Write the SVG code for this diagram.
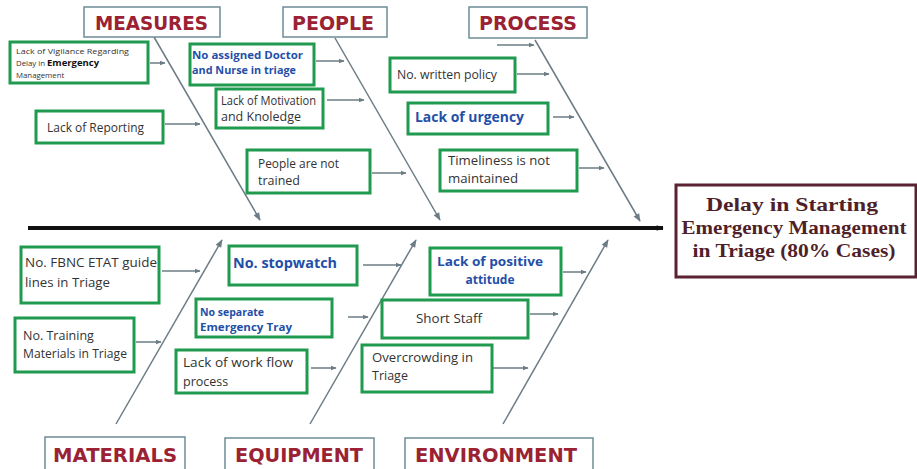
<svg xmlns="http://www.w3.org/2000/svg" width="917" height="469" viewBox="0 0 917 469">
<defs>
<marker id="ah" viewBox="0 0 10 10" refX="9" refY="5" markerWidth="6" markerHeight="6" markerUnits="userSpaceOnUse" orient="auto"><path d="M0,1 L10,5 L0,9 z" fill="#6b7c84"/></marker>
<marker id="bh" viewBox="0 0 10 10" refX="9" refY="5" markerWidth="10" markerHeight="8" markerUnits="userSpaceOnUse" orient="auto"><path d="M0,1 L10,5 L0,9 z" fill="#6b7c84"/></marker>
<marker id="sh" viewBox="0 0 10 10" refX="9" refY="5" markerWidth="9" markerHeight="7" markerUnits="userSpaceOnUse" orient="auto"><path d="M0,1 L10,5 L0,9 z" fill="#111"/></marker>
</defs>
<style>
.cat rect{fill:#fff;stroke:#6f8c98;stroke-width:1.5}
.cat text{font-family:"DejaVu Sans","Open Sans",sans-serif;font-weight:bold;font-size:19px;fill:#9b2233}
.cause rect{fill:#fff;stroke:#1f9a4f;stroke-width:3}
.cause text{font-family:"Open Sans","Liberation Sans",sans-serif;font-size:12.5px;fill:#333}
.cause text.b{font-weight:bold;fill:#1f4fa8}
.bone{stroke:#6b7c84;stroke-width:1.5;fill:none}
.sm{stroke:#6b7c84;stroke-width:1.5;fill:none}
.eff text{font-family:"Liberation Serif","Times New Roman",serif;font-weight:bold;font-size:19px;fill:#4f1f2a}
</style>
<rect width="917" height="469" fill="#fff"/>

<g id="connectors">
<line x1="28" y1="228" x2="663" y2="228" stroke="#111" stroke-width="4" marker-end="url(#sh)"/>
<line class="bone" x1="154" y1="37" x2="260" y2="220" marker-end="url(#bh)"/>
<line class="bone" x1="335" y1="38" x2="440" y2="220" marker-end="url(#bh)"/>
<line class="bone" x1="535" y1="40" x2="640" y2="221" marker-end="url(#bh)"/>
<line class="bone" x1="116" y1="424" x2="222" y2="240" marker-end="url(#bh)"/>
<line class="bone" x1="310" y1="424" x2="416" y2="240" marker-end="url(#bh)"/>
<line class="bone" x1="503" y1="424" x2="608" y2="240" marker-end="url(#bh)"/>
<line class="sm" x1="150" y1="63" x2="165" y2="63" marker-end="url(#ah)"/>
<line class="sm" x1="165" y1="124" x2="200" y2="124" marker-end="url(#ah)"/>
<line class="sm" x1="316" y1="61" x2="344" y2="61" marker-end="url(#ah)"/>
<line class="sm" x1="327" y1="100" x2="364" y2="100" marker-end="url(#ah)"/>
<line class="sm" x1="372" y1="173" x2="406" y2="173" marker-end="url(#ah)"/>
<line class="sm" x1="497" y1="45" x2="534" y2="45" marker-end="url(#ah)"/>
<line class="sm" x1="517" y1="74" x2="549" y2="74" marker-end="url(#ah)"/>
<line class="sm" x1="553" y1="117" x2="574" y2="117" marker-end="url(#ah)"/>
<line class="sm" x1="579" y1="168" x2="604" y2="168" marker-end="url(#ah)"/>
<line class="sm" x1="162" y1="271" x2="200" y2="271" marker-end="url(#ah)"/>
<line class="sm" x1="136" y1="342" x2="161" y2="342" marker-end="url(#ah)"/>
<line class="sm" x1="363" y1="265" x2="401" y2="265" marker-end="url(#ah)"/>
<line class="sm" x1="348" y1="317" x2="368" y2="317" marker-end="url(#ah)"/>
<line class="sm" x1="311" y1="368" x2="336" y2="368" marker-end="url(#ah)"/>
<line class="sm" x1="563" y1="272" x2="586" y2="272" marker-end="url(#ah)"/>
<line class="sm" x1="530" y1="314" x2="558" y2="314" marker-end="url(#ah)"/>
<line class="sm" x1="492" y1="368" x2="528" y2="368" marker-end="url(#ah)"/>
</g>

<g id="cat-measures" class="cat"><rect x="84" y="7" width="136" height="30"/><text x="95" y="30" textLength="113" lengthAdjust="spacingAndGlyphs">MEASURES</text></g>
<g id="cat-people" class="cat"><rect x="283" y="7" width="104" height="30"/><text x="292" y="30" textLength="82" lengthAdjust="spacingAndGlyphs">PEOPLE</text></g>
<g id="cat-process" class="cat"><rect x="469" y="7" width="118" height="31"/><text x="479" y="30" textLength="98" lengthAdjust="spacingAndGlyphs">PROCESS</text></g>
<g id="cat-materials" class="cat"><rect x="45" y="437" width="140" height="40"/><text x="53" y="462" textLength="124" lengthAdjust="spacingAndGlyphs">MATERIALS</text></g>
<g id="cat-equipment" class="cat"><rect x="225" y="438" width="149" height="40"/><text x="235" y="462" textLength="128" lengthAdjust="spacingAndGlyphs">EQUIPMENT</text></g>
<g id="cat-environment" class="cat"><rect x="405" y="438" width="188" height="40"/><text x="415" y="462" textLength="162" lengthAdjust="spacingAndGlyphs">ENVIRONMENT</text></g>

<g id="effect" class="eff">
<rect x="676" y="185" width="240" height="92" fill="#fff" stroke="#5a2232" stroke-width="3"/>
<text x="792" y="211" text-anchor="middle" textLength="172" lengthAdjust="spacingAndGlyphs">Delay in Starting</text>
<text x="794" y="234" text-anchor="middle" textLength="225" lengthAdjust="spacingAndGlyphs">Emergency Management</text>
<text x="794" y="257" text-anchor="middle" textLength="203" lengthAdjust="spacingAndGlyphs">in Triage (80% Cases)</text>
</g>

<g id="c-vigilance" class="cause"><rect x="10" y="42" width="138" height="41"/>
<text x="16" y="54" style="font-size:7.8px" textLength="113" lengthAdjust="spacingAndGlyphs">Lack of Vigilance Regarding</text>
<text x="16" y="66" style="font-size:7.8px">Delay in <tspan style="font-weight:bold;font-size:9.5px;fill:#111">Emergency</tspan></text>
<text x="16" y="77.5" style="font-size:7.8px">Management</text></g>
<g id="c-reporting" class="cause"><rect x="36" y="111" width="127" height="32"/><text x="47" y="132" textLength="97" lengthAdjust="spacingAndGlyphs">Lack of Reporting</text></g>
<g id="c-assigned" class="cause"><rect x="190" y="44" width="124" height="41"/>
<text class="b" x="192" y="59" style="font-size:11px" textLength="111" lengthAdjust="spacingAndGlyphs">No assigned Doctor</text>
<text class="b" x="192" y="74" style="font-size:11px" textLength="104" lengthAdjust="spacingAndGlyphs">and Nurse in triage</text></g>
<g id="c-motivation" class="cause"><rect x="216" y="89" width="107" height="39"/>
<text x="221" y="105" textLength="95" lengthAdjust="spacingAndGlyphs">Lack of Motivation</text>
<text x="221" y="121">and Knoledge</text></g>
<g id="c-trained" class="cause"><rect x="247" y="150" width="123" height="43"/>
<text x="258" y="168" textLength="81" lengthAdjust="spacingAndGlyphs">People are not</text>
<text x="258" y="185">trained</text></g>
<g id="c-policy" class="cause"><rect x="390" y="58" width="125" height="34"/><text x="397" y="79" textLength="100" lengthAdjust="spacingAndGlyphs">No. written policy</text></g>
<g id="c-urgency" class="cause"><rect x="408" y="103" width="140" height="31"/><text class="b" x="415" y="122" style="font-size:14px" textLength="109" lengthAdjust="spacingAndGlyphs">Lack of urgency</text></g>
<g id="c-timeliness" class="cause"><rect x="440" y="150" width="137" height="41"/>
<text x="448" y="165" textLength="102" lengthAdjust="spacingAndGlyphs">Timeliness is not</text>
<text x="448" y="183" textLength="70" lengthAdjust="spacingAndGlyphs">maintained</text></g>

<g id="c-fbnc" class="cause"><rect x="21" y="247" width="138" height="56"/>
<text x="25" y="267" style="font-size:13.5px" textLength="132" lengthAdjust="spacingAndGlyphs">No. FBNC ETAT guide</text>
<text x="25" y="287" style="font-size:13.5px" textLength="85" lengthAdjust="spacingAndGlyphs">lines in Triage</text></g>
<g id="c-training" class="cause"><rect x="15" y="318" width="119" height="54"/>
<text x="23" y="340">No. Training</text>
<text x="23" y="358" textLength="104" lengthAdjust="spacingAndGlyphs">Materials in Triage</text></g>
<g id="c-stopwatch" class="cause"><rect x="229" y="246" width="128" height="39"/><text class="b" x="233" y="268" style="font-size:14px" textLength="104" lengthAdjust="spacingAndGlyphs">No. stopwatch</text></g>
<g id="c-tray" class="cause"><rect x="196" y="299" width="136" height="38"/>
<text class="b" x="200" y="316" style="font-size:10.5px">No separate</text>
<text class="b" x="200" y="331" style="font-size:10.5px" textLength="92" lengthAdjust="spacingAndGlyphs">Emergency Tray</text></g>
<g id="c-workflow" class="cause"><rect x="176" y="350" width="131" height="43"/>
<text x="183" y="367" textLength="110" lengthAdjust="spacingAndGlyphs">Lack of work flow</text>
<text x="183" y="386">process</text></g>
<g id="c-attitude" class="cause"><rect x="430" y="248" width="131" height="47"/>
<text class="b" x="490" y="266" text-anchor="middle" style="font-size:12px" textLength="106" lengthAdjust="spacingAndGlyphs">Lack of positive</text>
<text class="b" x="490" y="284" text-anchor="middle" style="font-size:12px">attitude</text></g>
<g id="c-staff" class="cause"><rect x="382" y="300" width="146" height="38"/><text x="449" y="323" text-anchor="middle" textLength="66" lengthAdjust="spacingAndGlyphs">Short Staff</text></g>
<g id="c-overcrowding" class="cause"><rect x="362" y="345" width="130" height="47"/>
<text x="372" y="362" textLength="101" lengthAdjust="spacingAndGlyphs">Overcrowding in</text>
<text x="372" y="380">Triage</text></g>
</svg>
